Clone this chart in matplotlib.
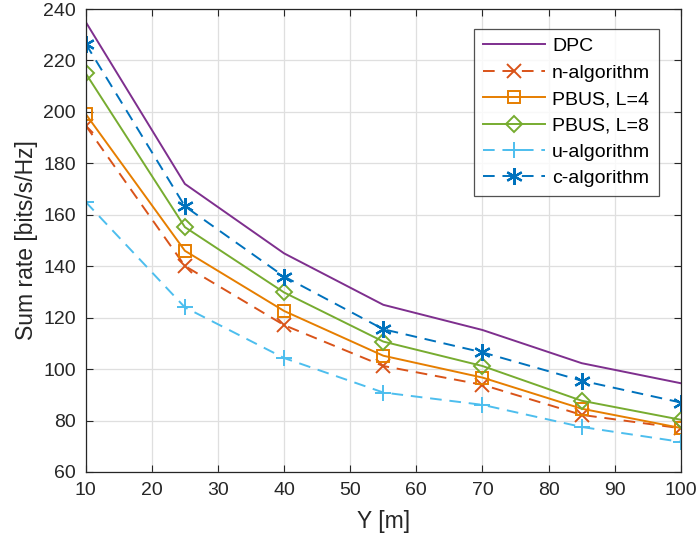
import matplotlib
matplotlib.use("Agg")
import matplotlib.pyplot as plt

plt.rcParams['font.family'] = ['Liberation Sans', 'DejaVu Sans']

x = [10, 25, 40, 55, 70, 85, 100]
dpc = [235, 172, 145, 125, 115.2, 102.3, 94.5]
n_alg = [194.7, 140.1, 117.1, 101.2, 93.9, 82.2, 77.0]
pbus4 = [199.2, 146, 122.6, 105.2, 96.7, 84.6, 77.1]
pbus8 = [215, 155.2, 129.8, 110.7, 101.2, 87.7, 80.3]
u_alg = [165, 124, 104.3, 90.9, 86.1, 77.5, 71.7]
c_alg = [226.5, 163.3, 136, 115.5, 106.5, 95.5, 87]

xticks = [10, 20, 30, 40, 50, 60, 70, 80, 90, 100]
yticks = [60, 80, 100, 120, 140, 160, 180, 200, 220, 240]

fig = plt.figure(figsize=(6.99, 5.44), dpi=100)
ax = fig.add_axes([0.1226, 0.1324, 0.8515, 0.851])

lw = 1.4
ax.plot(x, dpc, '-', color='#7E2F8E', lw=lw, label='DPC')
ax.plot(x, n_alg, '--', color='#D95319', lw=lw, marker='x', ms=10, mew=1.4,
        dashes=(6, 4), label='n-algorithm')
ax.plot(x, pbus4, '-', color='#E67E00', lw=lw, marker='s', ms=8, mfc='none', mew=1.4,
        label='PBUS, L=4')
ax.plot(x, pbus8, '-', color='#77AC30', lw=lw, marker='D', ms=8, mfc='none', mew=1.4,
        label='PBUS, L=8')
ax.plot(x, u_alg, '--', color='#4DBEEE', lw=lw, marker='+', ms=12, mew=1.4,
        dashes=(6, 4), label='u-algorithm')
ax.plot(x, c_alg, '--', color='#0072BD', lw=lw, marker=(6, 2, 0), ms=12, mew=1.6,
        dashes=(6, 4), label='c-algorithm')

ax.set_xlim(10, 100)
ax.set_ylim(60, 240)
ax.set_xticks(xticks)
ax.set_yticks(yticks)
ax.tick_params(direction='in', top=True, right=True, labelsize=14, length=5,
               width=0.8, colors='#262626', pad=7)
ax.grid(True, color='#DFDFDF', lw=0.9)
ax.set_axisbelow(True)
for s in ax.spines.values():
    s.set_color('#262626')
    s.set_linewidth(0.9)

ax.set_xlabel('Y [m]', fontsize=16.5, color='#262626', labelpad=8)
ax.set_ylabel('Sum rate [bits/s/Hz]', fontsize=16.5, color='#262626', labelpad=4)

leg = ax.legend(loc='upper right', bbox_to_anchor=(0.963, 0.957), fontsize=14,
                frameon=True, fancybox=False, edgecolor='#262626', handlelength=3.2,
                borderpad=0.45, labelspacing=0.45, handletextpad=0.35, borderaxespad=0)
leg.get_frame().set_linewidth(0.9)

fig.savefig('out.png', dpi=100)
